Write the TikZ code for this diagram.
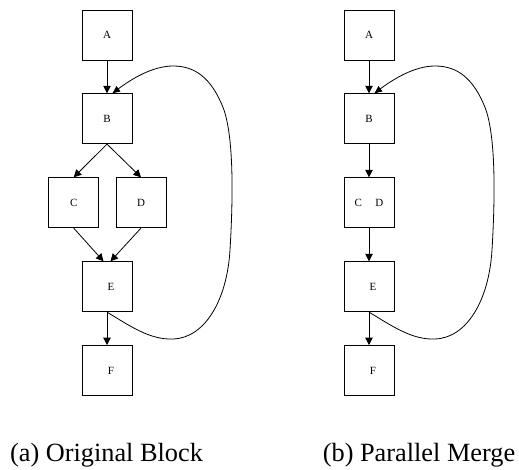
\documentclass[tikz,border=0pt]{standalone}
\usepackage{fontspec}
\setmainfont{Liberation Serif}
\newfontfamily\timesfont{Liberation Serif}
\usetikzlibrary{arrows.meta}

\tikzset{
  blk/.style={draw=black, line width=0.8pt, minimum width=50pt, minimum height=50pt,
              inner sep=0pt, font=\timesfont\fontsize{11}{13}\selectfont},
  flow/.style={line width=0.8pt, -{Triangle[length=7.5pt,width=7.5pt]}},
  loopback/.style={line width=0.8pt, -{Triangle[length=7.5pt,width=6.5pt]}},
  caption/.style={font=\timesfont\fontsize{26.3}{30}\selectfont, anchor=base, inner sep=0pt}
}

\begin{document}
\begin{tikzpicture}[x=1pt, y=-1pt]
  \useasboundingbox (0,0) rectangle (519,470);

  % ---- original block ----
  \node[blk] (a1) at (107,35)    {A};
  \node[blk] (b1) at (107,118.7) {B};
  \node[blk] (c1) at (73.7,202.7) {C};
  \node[blk] (d1) at (141,202.7) {D};
  \node[blk] (e1) at (107,286.7) {\hspace{8pt}E};
  \node[blk] (f1) at (107,370.5) {\hspace{8pt}F};

  \draw[flow] (a1) -- (b1);
  \draw[flow] (b1.south) -- (c1.north);
  \draw[flow] (b1.south) -- (d1.north);
  \draw[flow] (c1.south) -- ([xshift=-3.5pt]e1.north);
  \draw[flow] (d1.south) -- ([xshift=3.5pt]e1.north);
  \draw[flow] (e1) -- (f1);
  \draw[loopback] (e1.south)
      .. controls (130,326) and (150,340) .. (173,339)
      .. controls (205,338) and (227,300) .. (230,250)
      .. controls (233,200) and (234,140) .. (224,110)
      .. controls (212,78) and (195,66) .. (173,66)
      .. controls (152,66) and (130,80) .. ([xshift=5.5pt]b1.north);

  \node[caption] (cap1) at (106.5,461.7) {(a) Original Block};

  % ---- parallel merge ----
  \begin{scope}[xshift=262pt]
    \node[blk] (a2) at (107,35)    {A};
    \node[blk] (b2) at (107,118.7) {B};
    \node[blk] (cd2) at (107,202.7) {C\hspace{13.5pt}D};
    \node[blk] (e2) at (107,286.7) {\hspace{8pt}E};
    \node[blk] (f2) at (107,370.5) {\hspace{8pt}F};

    \draw[flow] (a2) -- (b2);
    \draw[flow] (b2) -- (cd2);
    \draw[flow] (cd2) -- (e2);
    \draw[flow] (e2) -- (f2);
    \draw[loopback] (e2.south)
        .. controls (130,326) and (150,340) .. (173,339)
        .. controls (205,338) and (227,300) .. (230,250)
        .. controls (233,200) and (234,140) .. (224,110)
        .. controls (212,78) and (195,66) .. (173,66)
        .. controls (152,66) and (130,80) .. ([xshift=5.5pt]b2.north);
  \end{scope}

  \node[caption] (cap2) at (419,461.7) {(b) Parallel Merge};
\end{tikzpicture}
\end{document}
